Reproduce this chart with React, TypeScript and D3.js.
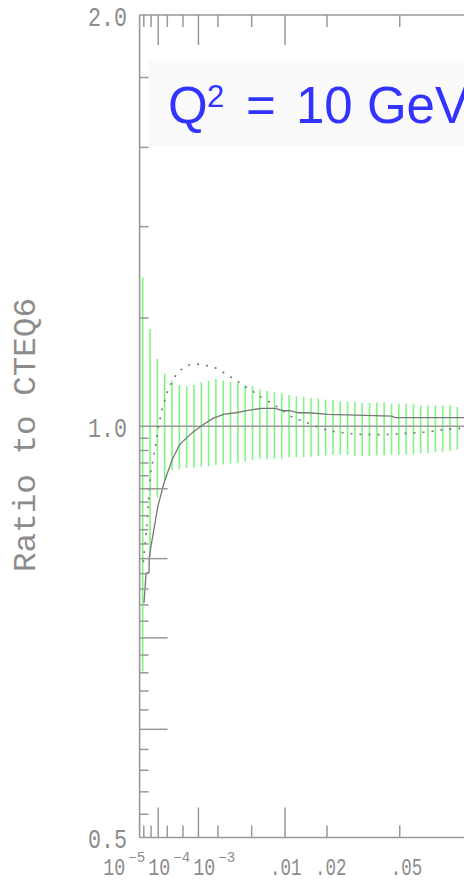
import React from 'react';
import * as d3 from 'd3';

const W = 464;
const H = 881;

// Error band grid (x values) and band limits (ratio to CTEQ6)
const bandX = [1.70e-5, 4.47e-5, 9.26e-5, 1.663e-4, 2.715e-4, 4.136e-4, 5.982e-4, 8.310e-4, 1.1175e-3, 1.4631e-3,
  1.8736e-3, 2.3545e-3, 2.9114e-3, 3.5497e-3, 4.2752e-3, 5.0934e-3, 6.0099e-3, 7.0300e-3, 8.1595e-3, 9.4041e-3,
  1.0769e-2, 1.2260e-2, 1.3883e-2, 1.5643e-2, 1.7546e-2, 1.9597e-2, 2.1802e-2, 2.4167e-2, 2.6696e-2, 2.9397e-2,
  3.2273e-2, 3.5332e-2, 3.8576e-2, 4.2015e-2, 4.5652e-2, 4.9494e-2, 5.3545e-2, 5.7810e-2, 6.2296e-2, 6.7009e-2,
  7.1956e-2, 7.7136e-2, 8.2564e-2, 8.8237e-2];
const bandHi = [1.285, 1.178, 1.120, 1.093, 1.080, 1.072, 1.070, 1.072, 1.077, 1.080,
  1.083, 1.080, 1.077, 1.075, 1.072, 1.070, 1.064, 1.061, 1.059, 1.057,
  1.054, 1.052, 1.051, 1.049, 1.048, 1.046, 1.045, 1.043, 1.043, 1.042,
  1.040, 1.040, 1.041, 1.041, 1.039, 1.039, 1.039, 1.039, 1.036, 1.036,
  1.036, 1.036, 1.036, 1.033];
const bandLo = [0.662, 0.803, 0.887, 0.913, 0.929, 0.930, 0.932, 0.933, 0.934, 0.935,
  0.937, 0.938, 0.939, 0.940, 0.942, 0.945, 0.946, 0.946, 0.946, 0.947,
  0.949, 0.949, 0.949, 0.950, 0.951, 0.952, 0.953, 0.953, 0.953, 0.951,
  0.951, 0.951, 0.952, 0.952, 0.953, 0.953, 0.953, 0.954, 0.955, 0.956,
  0.957, 0.958, 0.959, 0.961];

// Solid curve
const solidX = [2.072e-5, 2.736e-5, 3.977e-5, 4.071e-5, 4.984e-5, 9.565e-5, 1.6217e-4, 2.721e-4, 4.140e-4, 5.815e-4,
  8.096e-4, 1.182e-3, 1.688e-3, 2.435e-3, 3.384e-3, 4.443e-3, 6.270e-3, 8.259e-3, 9.691e-3, 1.0961e-2,
  1.2682e-2, 1.4984e-2, 2.0392e-2, 4.5934e-2, 4.7490e-2, 9.870e-2];
const solidR = [0.7423, 0.7807, 0.7814, 0.8007, 0.8171, 0.8730, 0.9107, 0.9446, 0.9688, 0.9798,
  0.9908, 1.0020, 1.0134, 1.0208, 1.0230, 1.0268, 1.0306, 1.0306, 1.0265, 1.0265,
  1.0230, 1.0230, 1.0203, 1.0173, 1.0148, 1.0148];

// Dotted curve
const dotX = [1.868e-5, 2.736e-5, 3.116e-5, 3.660e-5, 4.984e-5, 5.962e-5, 6.993e-5, 8.213e-5, 1.0427e-4, 1.260e-4,
  1.4388e-4, 1.8325e-4, 2.2035e-4, 2.8402e-4, 3.795e-4, 5.622e-4, 8.448e-4, 1.2273e-3, 1.688e-3, 2.2038e-3,
  2.7676e-3, 3.4475e-3, 4.1888e-3, 5.006e-3, 5.910e-3, 8.423e-3, 1.1099e-2, 1.2901e-2, 1.4984e-2, 1.9917e-2,
  2.5205e-2, 3.2076e-2, 4.4916e-2, 5.3896e-2, 6.6138e-2, 7.8844e-2, 9.2264e-2];
const dotR = [0.7954, 0.8337, 0.8451, 0.8786, 0.9273, 0.9430, 0.9574, 0.9721, 1.0037, 1.0191,
  1.0334, 1.0510, 1.0660, 1.0797, 1.0943, 1.1055, 1.1105, 1.1081, 1.1055, 1.0974,
  1.0888, 1.0797, 1.0701, 1.0617, 1.0528, 1.0346, 1.0173, 1.0105, 1.0049, 0.9936,
  0.9891, 0.9864, 0.9864, 0.9881, 0.9903, 0.9948, 0.9965];

// Axis ticks
const xMajorTicks = [1e-4, 1e-3, 0.01, 0.1];
const xMinorTicks = [2e-5, 5e-5, 2e-4, 5e-4, 2e-3, 5e-3, 0.02, 0.05, 0.2, 0.5];
const yMajorTicks = [0.9, 0.8, 0.7, 0.6];
const yMinorTicks = [1.2, 1.4, 1.6, 1.8,
  0.98, 0.96, 0.94, 0.92, 0.88, 0.86, 0.84, 0.82, 0.78, 0.76, 0.74, 0.72,
  0.68, 0.66, 0.64, 0.62, 0.58, 0.56, 0.54, 0.52];
const yTickLabels = [2.0, 1.0, 0.5];
const yTickText = ['2.0', '1.0', '0.5'];
const xPowLabels = [1e-5, 1e-4, 1e-3];
const xPowSup = ['\u22125', '\u22124', '\u22123'];
const xDecLabels = [0.01, 0.02, 0.05, 0.1];
const xDecText = ['.01', '.02', '.05', '.1'];

// layout (pixel offsets of labels relative to their tick)
const xPowDx = [-36.3, -9.9, -5.1];
const xDecDx = [-15, -12, -9, -11];

const GRAY = '#8c8c8c';
const AXIS = '#999999';
const GREEN = '#84f484';
const MONO = '"Liberation Mono", "DejaVu Sans Mono", monospace';

export default function App() {
  const x = d3.scalePow().exponent(1 / 3).domain([1e-5, 1]).range([139.6, 873.4]);
  const y = d3.scaleLog().domain([0.5, 2]).range([837.5, 15]);
  const solidPath = (d3.line<number>()
    .x((_, i) => x(solidX[i]))
    .y((d) => y(d))(solidR)) as string;
  const dotPath = (d3.line<number>()
    .curve(d3.curveCatmullRom)
    .x((_, i) => x(dotX[i]))
    .y((d) => y(d))(dotR)) as string;

  const x0 = x(1e-5);
  const xEnd = x(1);
  const yTop = y(2);
  const yBot = y(0.5);

  return (
    <svg width={W} height={H} style={{ position: 'absolute', left: 0, top: 0, background: '#fff' }}>
      <rect x={0} y={0} width={W} height={H} fill="#ffffff" />
      {/* title background */}
      <rect x={148} y={60} width={400} height={86} fill="#fafafa" />

      {/* error band */}
      {bandX.map((v, i) => (
        <line key={'b' + i} x1={x(v)} x2={x(v)} y1={y(bandHi[i])} y2={y(bandLo[i])}
          stroke={GREEN} strokeWidth={1.6} />
      ))}

      {/* reference line at 1 */}
      <line x1={x0} x2={xEnd} y1={y(1)} y2={y(1)} stroke={AXIS} strokeWidth={1.6} />

      {/* curves */}
      <path d={dotPath} fill="none" stroke="#777" strokeWidth={1.6} strokeDasharray="2 7" />
      <path d={solidPath} fill="none" stroke="#777" strokeWidth={1.3} />

      {/* frame */}
      <line x1={x0} x2={x0} y1={yTop} y2={yBot} stroke={AXIS} strokeWidth={1.6} />
      <line x1={x0} x2={xEnd} y1={yTop} y2={yTop} stroke={AXIS} strokeWidth={1.6} />
      <line x1={x0} x2={xEnd} y1={yBot} y2={yBot} stroke={AXIS} strokeWidth={1.6} />

      {/* x ticks (top & bottom) */}
      {xMajorTicks.map((v) => (
        <g key={'xm' + v}>
          <line x1={x(v)} x2={x(v)} y1={yTop} y2={yTop + 30} stroke={AXIS} strokeWidth={1.5} />
          <line x1={x(v)} x2={x(v)} y1={yBot} y2={yBot - 30} stroke={AXIS} strokeWidth={1.5} />
        </g>
      ))}
      {xMinorTicks.map((v) => (
        <g key={'xn' + v}>
          <line x1={x(v)} x2={x(v)} y1={yTop} y2={yTop + 12} stroke={AXIS} strokeWidth={1.5} />
          <line x1={x(v)} x2={x(v)} y1={yBot} y2={yBot - 12} stroke={AXIS} strokeWidth={1.5} />
        </g>
      ))}

      {/* y ticks */}
      {yMajorTicks.map((v) => (
        <line key={'ym' + v} x1={x0} x2={x0 + 28} y1={y(v)} y2={y(v)} stroke={AXIS} strokeWidth={1.5} />
      ))}
      {yMinorTicks.map((v) => (
        <line key={'yn' + v} x1={x0} x2={x0 + 9} y1={y(v)} y2={y(v)} stroke={AXIS} strokeWidth={1.5} />
      ))}

      {/* y tick labels */}
      {yTickLabels.map((v, i) => (
        <text key={'yl' + v} x={127} y={y(v) + 10.5} textAnchor="end" fontFamily={MONO}
          fontSize={27} fill={GRAY} textLength={39} lengthAdjust="spacingAndGlyphs">{yTickText[i]}</text>
      ))}

      {/* x tick labels */}
      {xPowLabels.map((v, i) => (
        <g key={'xp' + v}>
          <text x={x(v) + xPowDx[i]} y={875} fontFamily={MONO} fontSize={23} fill={GRAY}
            textLength={22} lengthAdjust="spacingAndGlyphs">10</text>
          <text x={x(v) + xPowDx[i] + 25} y={862} fontFamily={MONO} fontSize={14} fill={GRAY}
            textLength={17} lengthAdjust="spacingAndGlyphs">{xPowSup[i]}</text>
        </g>
      ))}
      {xDecLabels.map((v, i) => (
        <text key={'xd' + v} x={x(v) + xDecDx[i]} y={875} fontFamily={MONO} fontSize={23} fill={GRAY}
          textLength={xDecText[i].length * 10.5} lengthAdjust="spacingAndGlyphs">{xDecText[i]}</text>
      ))}

      {/* y axis title */}
      <text transform="translate(35,435) rotate(-90)" textAnchor="middle" fontFamily={MONO}
        fontSize={31} fill={GRAY} textLength={274} lengthAdjust="spacingAndGlyphs">Ratio to CTEQ6</text>

      {/* title */}
      <text y={123} fontFamily='"Liberation Sans", Arial, sans-serif' fontSize={51} fill="#3333ff">
        <tspan x={168}>Q</tspan>
        <tspan x={207} y={107} fontSize={31}>2</tspan>
        <tspan x={246} y={123}>=</tspan>
        <tspan x={296} y={123}>10 GeV</tspan>
        <tspan dy={-16} fontSize={31}>2</tspan>
      </text>
    </svg>
  );
}
